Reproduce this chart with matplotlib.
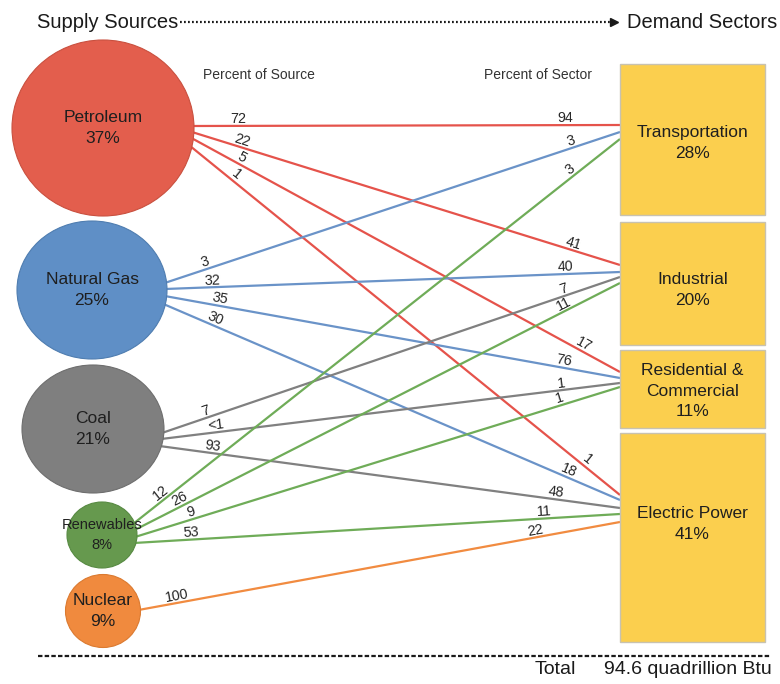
import numpy as np
import matplotlib.pyplot as plt
from matplotlib.patches import Ellipse, Rectangle

plt.rcParams['font.family'] = ['Liberation Sans', 'DejaVu Sans']

# ---- data ----
sources = ['Petroleum', 'Natural Gas', 'Coal', 'Renewables', 'Nuclear']
source_share = [37, 25, 21, 8, 9]
sectors = ['Transportation', 'Industrial', 'Residential &\nCommercial', 'Electric Power']
sector_share = [28, 20, 11, 41]

# each flow: source index -> sector index, percent of source, percent of sector
flow_src = [0, 0, 0, 0, 1, 1, 1, 1, 2, 2, 2, 3, 3, 3, 3, 4]
flow_dst = [0, 1, 2, 3, 0, 1, 2, 3, 1, 2, 3, 0, 1, 2, 3, 3]
pct_of_source = ['72', '22', '5', '1', '3', '32', '35', '30', '7', '<1', '93',
                 '12', '26', '9', '53', '100']
pct_of_sector = ['94', '41', '17', '1', '3', '40', '76', '18', '7', '1', '48',
                 '3', '11', '1', '11', '22']
total_text = '94.6 quadrillion Btu'

# ---- layout (pixel coords, y down) ----
src_center = [(103, 128), (92, 290), (93, 429), (102, 535), (103, 611)]
src_size = [(182, 176), (150, 138), (142, 128), (70, 66), (75, 73)]
src_font = [12.5, 12.5, 12.5, 10.5, 12.5]
fill_colors = ['#E35E4D', '#5F8FC6', '#7F7F7F', '#66994E', '#F08A3E']
edge_colors = ['#C9503F', '#4F7DB0', '#6E6E6E', '#578A42', '#DB7A30']
line_colors = ['#E5534B', '#6A93C8', '#808080', '#6FAC58', '#F18B40']

box_x0, box_x1 = 620, 765
box_y = [(64, 215), (222, 345), (350, 428), (433, 642)]
box_label_y = [143, 290, 391, 524]

start_y = [126, 132, 138, 146, 283, 289, 296, 304, 433, 439, 446, 524, 530, 537, 543, 610]
end_y = [125, 265, 372, 495, 132, 272, 378, 500, 277, 383, 508, 139, 283, 387, 514, 522]
src_label_x = [238, 240, 238, 232, 207, 213, 219, 213, 208, 217, 212, 165, 183, 193, 192, 178]
dst_label_x = [565, 571, 580, 583, 573, 566, 563, 566, 566, 562, 555, 574, 567, 562, 545, 537]

fig = plt.figure(figsize=(7.8, 6.84), dpi=100)
ax = fig.add_axes([0, 0, 1, 1])
ax.set_xlim(0, 780)
ax.set_ylim(684, 0)
ax.axis('off')

# flows
for i in range(len(flow_src)):
    s = flow_src[i]
    cx, cy = src_center[s]
    w, h = src_size[s]
    y0 = start_y[i]
    x0 = cx + w / 2 * np.sqrt(max(0, 1 - ((y0 - cy) / (h / 2)) ** 2)) - 2
    x1, y1 = box_x0, end_y[i]
    ax.plot([x0, x1], [y0, y1], color=line_colors[s], lw=1.6, zorder=1,
            solid_capstyle='butt')
    angle = np.degrees(np.arctan2(-(y1 - y0), x1 - x0))
    d = np.hypot(x1 - x0, y1 - y0)
    nx, ny = (y1 - y0) / d, -(x1 - x0) / d
    for lx, txt in [(src_label_x[i], pct_of_source[i]), (dst_label_x[i], pct_of_sector[i])]:
        ly = y0 + (y1 - y0) * (lx - x0) / (x1 - x0)
        ax.text(lx + nx * 7, ly + ny * 7, txt, rotation=angle, rotation_mode='anchor',
                ha='center', va='center', fontsize=10.3, color='#262626', zorder=3)

# supply circles
for i, name in enumerate(sources):
    cx, cy = src_center[i]
    w, h = src_size[i]
    ax.add_patch(Ellipse((cx, cy), w, h, facecolor=fill_colors[i],
                         edgecolor=edge_colors[i], lw=0.8, zorder=2))
    ax.text(cx, cy, '{}\n{}%'.format(name, source_share[i]), ha='center', va='center',
            fontsize=src_font[i], color='#1f1f1f', linespacing=1.5, zorder=3)

# demand boxes
for i, name in enumerate(sectors):
    y_top, y_bot = box_y[i]
    ax.add_patch(Rectangle((box_x0, y_top), box_x1 - box_x0, y_bot - y_top,
                           facecolor='#FBCF4E', edgecolor='#C8C2B0', lw=1, zorder=2))
    ax.text((box_x0 + box_x1) / 2, box_label_y[i], '{}\n{}%'.format(name, sector_share[i]),
            ha='center', va='center', fontsize=12.5, color='#1f1f1f',
            linespacing=1.45, zorder=3)

# header
ax.text(37, 22, 'Supply Sources', ha='left', va='center', fontsize=14.5, color='#1a1a1a')
ax.plot([180, 612], [22, 22], color='#1a1a1a', lw=1.6, linestyle=(0, (0.8, 1.0)))
ax.plot([614], [22], marker='>', color='#1a1a1a', markersize=6)
ax.text(627, 22, 'Demand Sectors', ha='left', va='center', fontsize=14.5, color='#1a1a1a')

ax.text(203, 75, 'Percent of Source', ha='left', va='center', fontsize=10, color='#333333')
ax.text(484, 75, 'Percent of Sector', ha='left', va='center', fontsize=10, color='#333333')

# footer
ax.plot([38, 770], [656, 656], color='#1a1a1a', lw=1.6, linestyle=(0, (2, 1.0)))
ax.text(535, 670, 'Total', ha='left', va='center', fontsize=14, color='#1a1a1a')
ax.text(604, 670, total_text, ha='left', va='center', fontsize=14, color='#1a1a1a')

fig.savefig('out.png', dpi=100)
